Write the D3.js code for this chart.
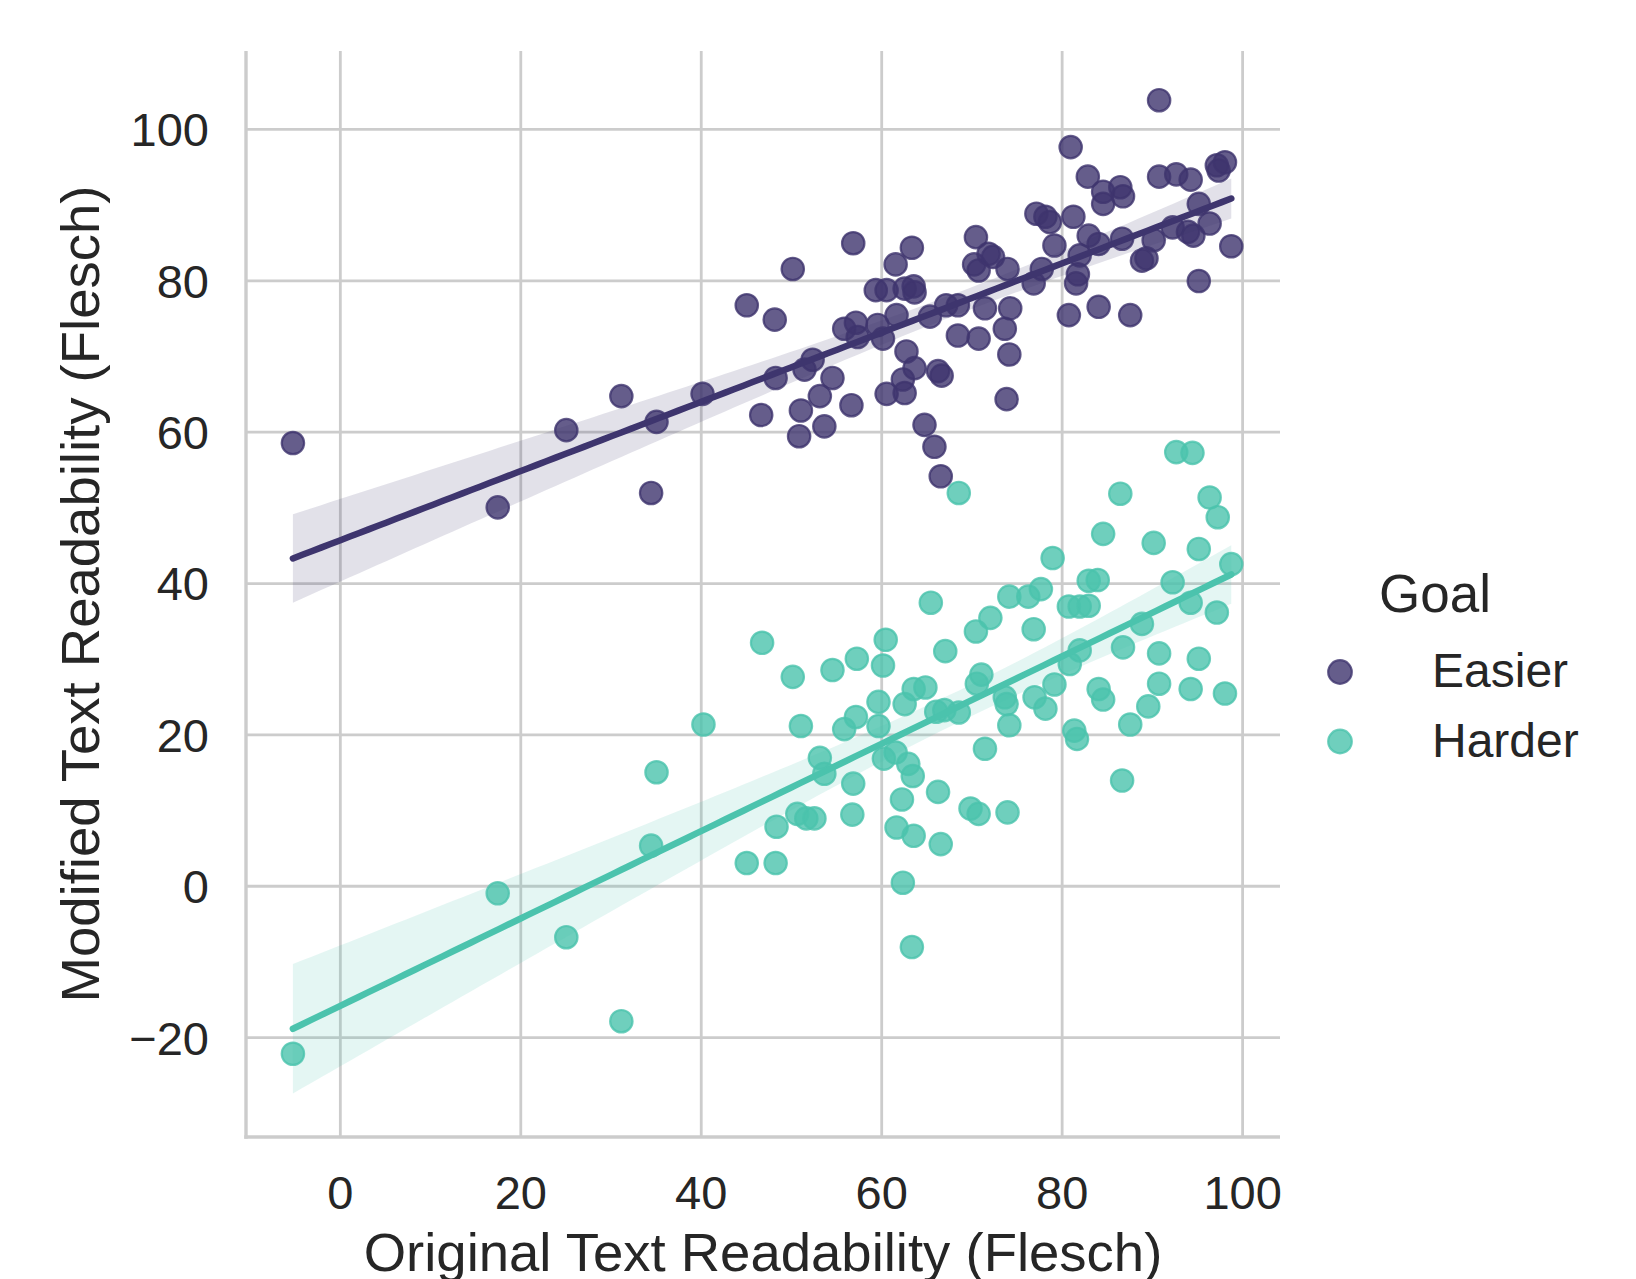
<!DOCTYPE html>
<html>
<head>
<meta charset="utf-8">
<script src="https://cdn.jsdelivr.net/npm/d3@7"></script>
<style>
  html, body { margin: 0; padding: 0; background: #fff; }
  text { font-family: "Liberation Sans", Arial, sans-serif; fill: #262626; }
</style>
</head>
<body>
<div id="chart"></div>
<script>
/* Data: [original, modified] */
let easier = [
  [-5.2, 58.5], [17.5, 50.0], [25.1, 60.2], [31.2, 64.7], [34.5, 51.9], [35.1, 61.3], [40.2, 65.0],
  [45.1, 76.7], [46.7, 62.2], [48.2, 74.8], [48.3, 67.1], [50.2, 81.5], [50.9, 59.4], [51.1, 62.8],
  [51.5, 68.2], [52.4, 69.5], [53.2, 64.7], [53.7, 60.7], [54.6, 67.1], [55.9, 73.6], [56.7, 63.5],
  [56.9, 84.9], [57.2, 74.4], [57.4, 72.5], [59.4, 78.7], [59.6, 74.1], [60.2, 72.3], [60.6, 78.7],
  [60.6, 65.0], [61.6, 82.1], [61.7, 75.4], [62.4, 66.9], [62.6, 65.1], [62.6, 78.9], [62.8, 70.6],
  [63.4, 84.3], [63.6, 79.2], [63.7, 78.4], [63.7, 68.4], [64.8, 60.9], [65.4, 75.2], [65.9, 58.0],
  [66.3, 68.0], [66.6, 54.1], [66.7, 67.4], [67.2, 76.7], [68.5, 76.7], [68.5, 72.7], [70.5, 85.7],
  [70.3, 82.1], [70.8, 81.3], [70.8, 72.3], [71.5, 76.3], [71.9, 83.5], [72.4, 83.1], [73.7, 73.6],
  [73.9, 64.3], [74.0, 81.5], [74.2, 70.2], [74.3, 76.3], [76.9, 79.6], [77.2, 88.8], [77.8, 81.5],
  [78.2, 88.4], [78.7, 87.7], [79.2, 84.6], [80.8, 75.4], [81.0, 97.6], [81.3, 88.4], [81.6, 79.6],
  [81.8, 80.8], [82.0, 83.3], [82.9, 93.7], [83.0, 85.9], [84.1, 84.8], [84.1, 76.5], [84.6, 91.7],
  [84.6, 90.1], [86.5, 92.3], [86.7, 85.5], [86.8, 91.1], [87.6, 75.4], [88.9, 82.6], [89.4, 82.9],
  [90.2, 85.3], [90.8, 93.7], [90.8, 103.8], [92.3, 87.0], [92.7, 94.0], [94.0, 86.4], [94.3, 93.3],
  [94.6, 85.9], [95.2, 90.1], [95.2, 79.9], [96.4, 87.5], [97.2, 95.2], [97.4, 94.5], [98.1, 95.6],
  [98.8, 84.5]
]

let harder = [
  [-5.2, -22.2], [17.5, -1.0], [25.1, -6.8], [31.2, -17.9], [34.5, 5.3], [35.1, 15.0], [40.3, 21.3],
  [45.1, 3.0], [46.8, 32.1], [48.3, 3.0], [48.4, 7.8], [50.2, 27.6], [50.7, 9.5], [51.1, 21.1],
  [51.7, 8.9], [52.6, 8.9], [53.2, 16.9], [53.7, 14.8], [54.6, 28.5], [55.9, 20.7], [56.8, 9.4],
  [56.9, 13.5], [57.2, 22.3], [57.3, 30.0], [59.7, 24.3], [59.7, 21.1], [60.2, 29.1], [60.3, 16.8],
  [60.5, 32.5], [61.6, 17.6], [61.7, 7.7], [62.3, 11.4], [62.4, 0.4], [62.6, 24.0], [63.0, 16.1],
  [63.5, 14.5], [63.4, -8.1], [63.6, 6.6], [63.6, 26.0], [64.9, 26.2], [65.5, 37.4], [66.1, 23.0],
  [66.3, 12.4], [66.6, 5.5], [67.0, 23.2], [67.1, 31.0], [68.6, 22.9], [68.6, 51.9], [69.9, 10.2],
  [70.5, 33.6], [70.6, 26.7], [70.8, 9.5], [71.1, 27.9], [71.5, 18.1], [72.1, 35.4], [73.7, 24.9],
  [73.9, 24.0], [74.0, 9.7], [74.2, 21.2], [74.2, 38.2], [76.3, 38.2], [76.9, 33.9], [77.0, 24.9],
  [77.7, 39.2], [78.2, 23.4], [79.0, 43.3], [79.2, 26.6], [80.8, 36.9], [80.9, 29.3], [81.4, 20.5],
  [81.7, 19.4], [82.0, 31.1], [82.0, 36.9], [83.0, 37.0], [83.0, 40.3], [84.0, 40.4], [84.1, 26.0],
  [84.6, 24.6], [84.6, 46.5], [86.5, 51.8], [86.7, 13.9], [86.8, 31.5], [87.6, 21.3], [88.9, 34.6],
  [89.6, 23.7], [90.2, 45.3], [90.8, 26.7], [90.8, 30.7], [92.3, 40.1], [92.7, 57.3], [94.3, 26.0],
  [94.3, 37.4], [94.5, 57.2], [95.2, 44.5], [95.2, 30.0], [96.4, 51.3], [97.2, 36.1], [97.3, 48.7],
  [98.1, 25.4], [98.8, 42.5]
]

let goals = ['Easier', 'Harder']
let xTicks = [0, 20, 40, 60, 80, 100]
let yTicks = [-20, 0, 20, 40, 60, 80, 100]

let width = 1636
let height = 1279
let plot = { left: 246, right: 1280, top: 51, bottom: 1137 }
let colors = { Easier: '#3e356e', Harder: '#4bc3ad' }
let gridColor = '#cccccc'

/* Scale */
let xScale = d3.scaleLinear().domain([-10.4, 104.2]).range([plot.left, plot.right])
let yScale = d3.scaleLinear().domain([-33.2, 110.3]).range([plot.bottom, plot.top])

let svg = d3
  .select('#chart')
  .append('svg')
  .attr('width', width)
  .attr('height', height)

svg.append('rect').attr('width', width).attr('height', height).attr('fill', '#fff')

/* Grid + tick labels */
let minus = d => d < 0 ? '\u2212' + Math.abs(d) : d
let xAxis = d3.axisBottom(xScale).tickValues(xTicks).tickSize(-(plot.bottom - plot.top)).tickPadding(0).tickFormat(minus)
let yAxis = d3.axisLeft(yScale).tickValues(yTicks).tickSize(-(plot.right - plot.left)).tickPadding(0).tickFormat(minus)

let gx = svg.append('g').attr('transform', `translate(0, ${plot.bottom})`).call(xAxis)
let gy = svg.append('g').attr('transform', `translate(${plot.left}, 0)`).call(yAxis)

for (let g of [gx, gy]) {
  g.select('.domain').remove()
  g.selectAll('.tick line').attr('stroke', gridColor).attr('stroke-width', 2.8)
  g.selectAll('.tick text').style('font-size', '47px').attr('fill', '#262626')
}
gx.selectAll('.tick text').attr('y', 72).attr('dy', 0)
gy.selectAll('.tick text').attr('x', -37).attr('dy', '0.36em')

/* Spines (left, bottom) */
svg.append('line')
  .attr('x1', plot.left).attr('x2', plot.left)
  .attr('y1', plot.top).attr('y2', plot.bottom + 1.7)
  .attr('stroke', gridColor).attr('stroke-width', 3.4)
svg.append('line')
  .attr('x1', plot.left - 1.7).attr('x2', plot.right)
  .attr('y1', plot.bottom).attr('y2', plot.bottom)
  .attr('stroke', gridColor).attr('stroke-width', 3.4)

/* Linear fit with 95% band, like regplot */
function fit(points) {
  let n = points.length
  let mx = d3.mean(points, d => d[0])
  let my = d3.mean(points, d => d[1])
  let sxx = d3.sum(points, d => (d[0] - mx) ** 2)
  let sxy = d3.sum(points, d => (d[0] - mx) * (d[1] - my))
  let b = sxy / sxx
  let a = my - b * mx
  let s = Math.sqrt(d3.sum(points, d => (d[1] - a - b * d[0]) ** 2) / (n - 2))
  let [x0, x1] = d3.extent(points, d => d[0])
  return d3.range(0, 101).map(i => {
    let x = x0 + (x1 - x0) * i / 100
    let se = s * Math.sqrt(1 / n + (x - mx) ** 2 / sxx)
    return { x: x, y: a + b * x, lo: a + b * x - 1.984 * se, hi: a + b * x + 1.984 * se }
  })
}

let series = [
  { name: 'Easier', values: easier },
  { name: 'Harder', values: harder }
]

let area = d3.area().x(d => xScale(d.x)).y0(d => yScale(d.lo)).y1(d => yScale(d.hi))
let line = d3.line().x(d => xScale(d.x)).y(d => yScale(d.y))

series.forEach(s => {
  let c = colors[s.name]
  let g = svg.append('g').attr('class', 'series')

  g.selectAll('circle')
    .data(s.values)
    .enter()
    .append('circle')
    .attr('cx', d => xScale(d[0]))
    .attr('cy', d => yScale(d[1]))
    .attr('r', 11.2)
    .attr('fill', c)
    .attr('fill-opacity', 0.8)
    .attr('stroke', c)
    .attr('stroke-opacity', 0.8)
    .attr('stroke-width', 2.2)

  let f = fit(s.values)
  g.append('path').attr('d', area(f)).attr('fill', c).attr('fill-opacity', 0.15)
  g.append('path').attr('d', line(f)).attr('fill', 'none').attr('stroke', c)
    .attr('stroke-width', 6.5).attr('stroke-linecap', 'round')
})

/* Axis labels */
svg.append('text')
  .attr('x', (plot.left + plot.right) / 2)
  .attr('y', 1271)
  .attr('text-anchor', 'middle')
  .style('font-size', '54.5px')
  .text('Original Text Readability (Flesch)')

svg.append('text')
  .attr('transform', `translate(99, ${(plot.top + plot.bottom) / 2}) rotate(-90)`)
  .attr('text-anchor', 'middle')
  .style('font-size', '54.5px')
  .text('Modified Text Readability (Flesch)')

/* Legend */
let legend = svg.append('g')
legend.append('text')
  .attr('x', 1379).attr('y', 612)
  .style('font-size', '53px')
  .text('Goal')

goals.forEach((name, i) => {
  let cy = 672 + i * 69.5
  legend.append('circle')
    .attr('cx', 1340).attr('cy', cy).attr('r', 11.8)
    .attr('fill', colors[name]).attr('fill-opacity', 0.8)
    .attr('stroke', colors[name]).attr('stroke-opacity', 0.8)
    .attr('stroke-width', 2.2)
  legend.append('text')
    .attr('x', 1432).attr('y', cy + 15)
    .style('font-size', '48px')
    .text(name)
})
</script>
</body>
</html>
